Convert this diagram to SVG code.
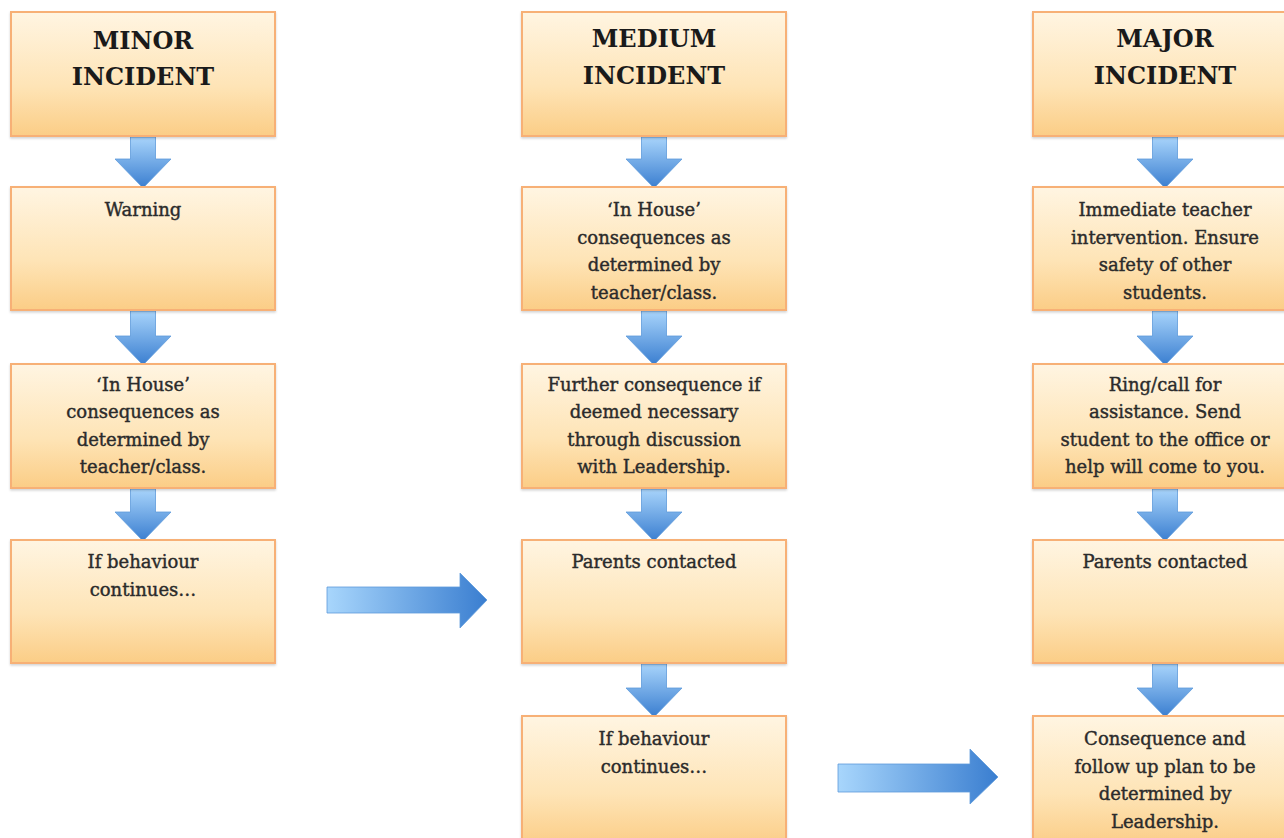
<svg xmlns="http://www.w3.org/2000/svg" width="1284" height="838" viewBox="0 0 1284 838">
<defs>
<linearGradient id="boxFill" x1="0" y1="0" x2="0" y2="1">
<stop offset="0" stop-color="#FFF5E2"/>
<stop offset="0.6" stop-color="#FEE4B6"/>
<stop offset="1" stop-color="#FBCD86"/>
</linearGradient>
<linearGradient id="arrV" x1="0" y1="0" x2="0" y2="1">
<stop offset="0" stop-color="#A8D4FB"/>
<stop offset="1" stop-color="#3A7ED0"/>
</linearGradient>
<linearGradient id="arrH" x1="0" y1="0" x2="1" y2="0">
<stop offset="0" stop-color="#A8D6FC"/>
<stop offset="1" stop-color="#3A7ED0"/>
</linearGradient>
<filter id="sh" x="-5%" y="-5%" width="110%" height="115%">
<feDropShadow dx="0" dy="1.5" stdDeviation="1" flood-color="#000" flood-opacity="0.18"/>
</filter>
</defs>
<style>
.box{fill:url(#boxFill);stroke:#F7B076;stroke-width:2;filter:url(#sh)}
.h{font-family:"DejaVu Serif","Liberation Serif",serif;font-weight:bold;font-size:24px;fill:#1a1a1a;text-anchor:middle}
.t{font-family:"DejaVu Serif","Liberation Serif",serif;font-size:18px;fill:#2b2b2b;stroke:#2b2b2b;stroke-width:0.4;text-anchor:middle}
.av{fill:url(#arrV);stroke:#5E9BDA;stroke-width:0.8}
.ah{fill:url(#arrH);stroke:#5E9BDA;stroke-width:0.8}
</style>
<rect width="1284" height="838" fill="#fff"/>

<g id="connectors">
<path class="av" d="M130.5,137 H155.5 V159 H171 L143,188 L115,159 H130.5 Z"/>
<path class="av" d="M130.5,311 H155.5 V336 H171 L143,365 L115,336 H130.5 Z"/>
<path class="av" d="M130.5,489 H155.5 V512 H171 L143,541 L115,512 H130.5 Z"/>
<path class="av" d="M641.5,137 H666.5 V159 H682 L654,188 L626,159 H641.5 Z"/>
<path class="av" d="M641.5,311 H666.5 V336 H682 L654,365 L626,336 H641.5 Z"/>
<path class="av" d="M641.5,489 H666.5 V512 H682 L654,541 L626,512 H641.5 Z"/>
<path class="av" d="M641.5,664 H666.5 V688 H682 L654,717 L626,688 H641.5 Z"/>
<path class="av" d="M1152.5,137 H1177.5 V159 H1193 L1165,188 L1137,159 H1152.5 Z"/>
<path class="av" d="M1152.5,311 H1177.5 V336 H1193 L1165,365 L1137,336 H1152.5 Z"/>
<path class="av" d="M1152.5,489 H1177.5 V512 H1193 L1165,541 L1137,512 H1152.5 Z"/>
<path class="av" d="M1152.5,664 H1177.5 V688 H1193 L1165,717 L1137,688 H1152.5 Z"/>
<path class="ah" d="M327,587 H460 V573 L487,600 L460,628 V613 H327 Z"/>
<path class="ah" d="M838,764 H970 V749 L998,777 L970,804 V792 H838 Z"/>
</g>

<g id="minor-incident">
<rect class="box" x="11" y="12" width="264" height="124"/>
<text class="h" x="143" y="49">MINOR</text>
<text class="h" x="143" y="85">INCIDENT</text>
</g>
<g id="minor-warning">
<rect class="box" x="11" y="187" width="264" height="123"/>
<text class="t" x="143" y="216">Warning</text>
</g>
<g id="minor-inhouse">
<rect class="box" x="11" y="364" width="264" height="124"/>
<text class="t" x="143" y="391">‘In House’</text>
<text class="t" x="143" y="418">consequences as</text>
<text class="t" x="143" y="446">determined by</text>
<text class="t" x="143" y="473">teacher/class.</text>
</g>
<g id="minor-continues">
<rect class="box" x="11" y="540" width="264" height="123"/>
<text class="t" x="143" y="568">If behaviour</text>
<text class="t" x="143" y="596">continues…</text>
</g>

<g id="medium-incident">
<rect class="box" x="522" y="12" width="264" height="124"/>
<text class="h" x="654" y="47">MEDIUM</text>
<text class="h" x="654" y="84">INCIDENT</text>
</g>
<g id="medium-inhouse">
<rect class="box" x="522" y="187" width="264" height="123"/>
<text class="t" x="654" y="216">‘In House’</text>
<text class="t" x="654" y="244">consequences as</text>
<text class="t" x="654" y="271">determined by</text>
<text class="t" x="654" y="299">teacher/class.</text>
</g>
<g id="medium-further">
<rect class="box" x="522" y="364" width="264" height="124"/>
<text class="t" x="654" y="391">Further consequence if</text>
<text class="t" x="654" y="418">deemed necessary</text>
<text class="t" x="654" y="446">through discussion</text>
<text class="t" x="654" y="473">with Leadership.</text>
</g>
<g id="medium-parents">
<rect class="box" x="522" y="540" width="264" height="123"/>
<text class="t" x="654" y="568">Parents contacted</text>
</g>
<g id="medium-continues">
<rect class="box" x="522" y="716" width="264" height="130"/>
<text class="t" x="654" y="745">If behaviour</text>
<text class="t" x="654" y="773">continues…</text>
</g>

<g id="major-incident">
<rect class="box" x="1033" y="12" width="264" height="124"/>
<text class="h" x="1165" y="47">MAJOR</text>
<text class="h" x="1165" y="84">INCIDENT</text>
</g>
<g id="major-immediate">
<rect class="box" x="1033" y="187" width="264" height="123"/>
<text class="t" x="1165" y="216">Immediate teacher</text>
<text class="t" x="1165" y="244">intervention. Ensure</text>
<text class="t" x="1165" y="271">safety of other</text>
<text class="t" x="1165" y="299">students.</text>
</g>
<g id="major-ring">
<rect class="box" x="1033" y="364" width="264" height="124"/>
<text class="t" x="1165" y="391">Ring/call for</text>
<text class="t" x="1165" y="418">assistance. Send</text>
<text class="t" x="1165" y="446">student to the office or</text>
<text class="t" x="1165" y="473">help will come to you.</text>
</g>
<g id="major-parents">
<rect class="box" x="1033" y="540" width="264" height="123"/>
<text class="t" x="1165" y="568">Parents contacted</text>
</g>
<g id="major-consequence">
<rect class="box" x="1033" y="716" width="264" height="130"/>
<text class="t" x="1165" y="745">Consequence and</text>
<text class="t" x="1165" y="773">follow up plan to be</text>
<text class="t" x="1165" y="800">determined by</text>
<text class="t" x="1165" y="828">Leadership.</text>
</g>
</svg>
